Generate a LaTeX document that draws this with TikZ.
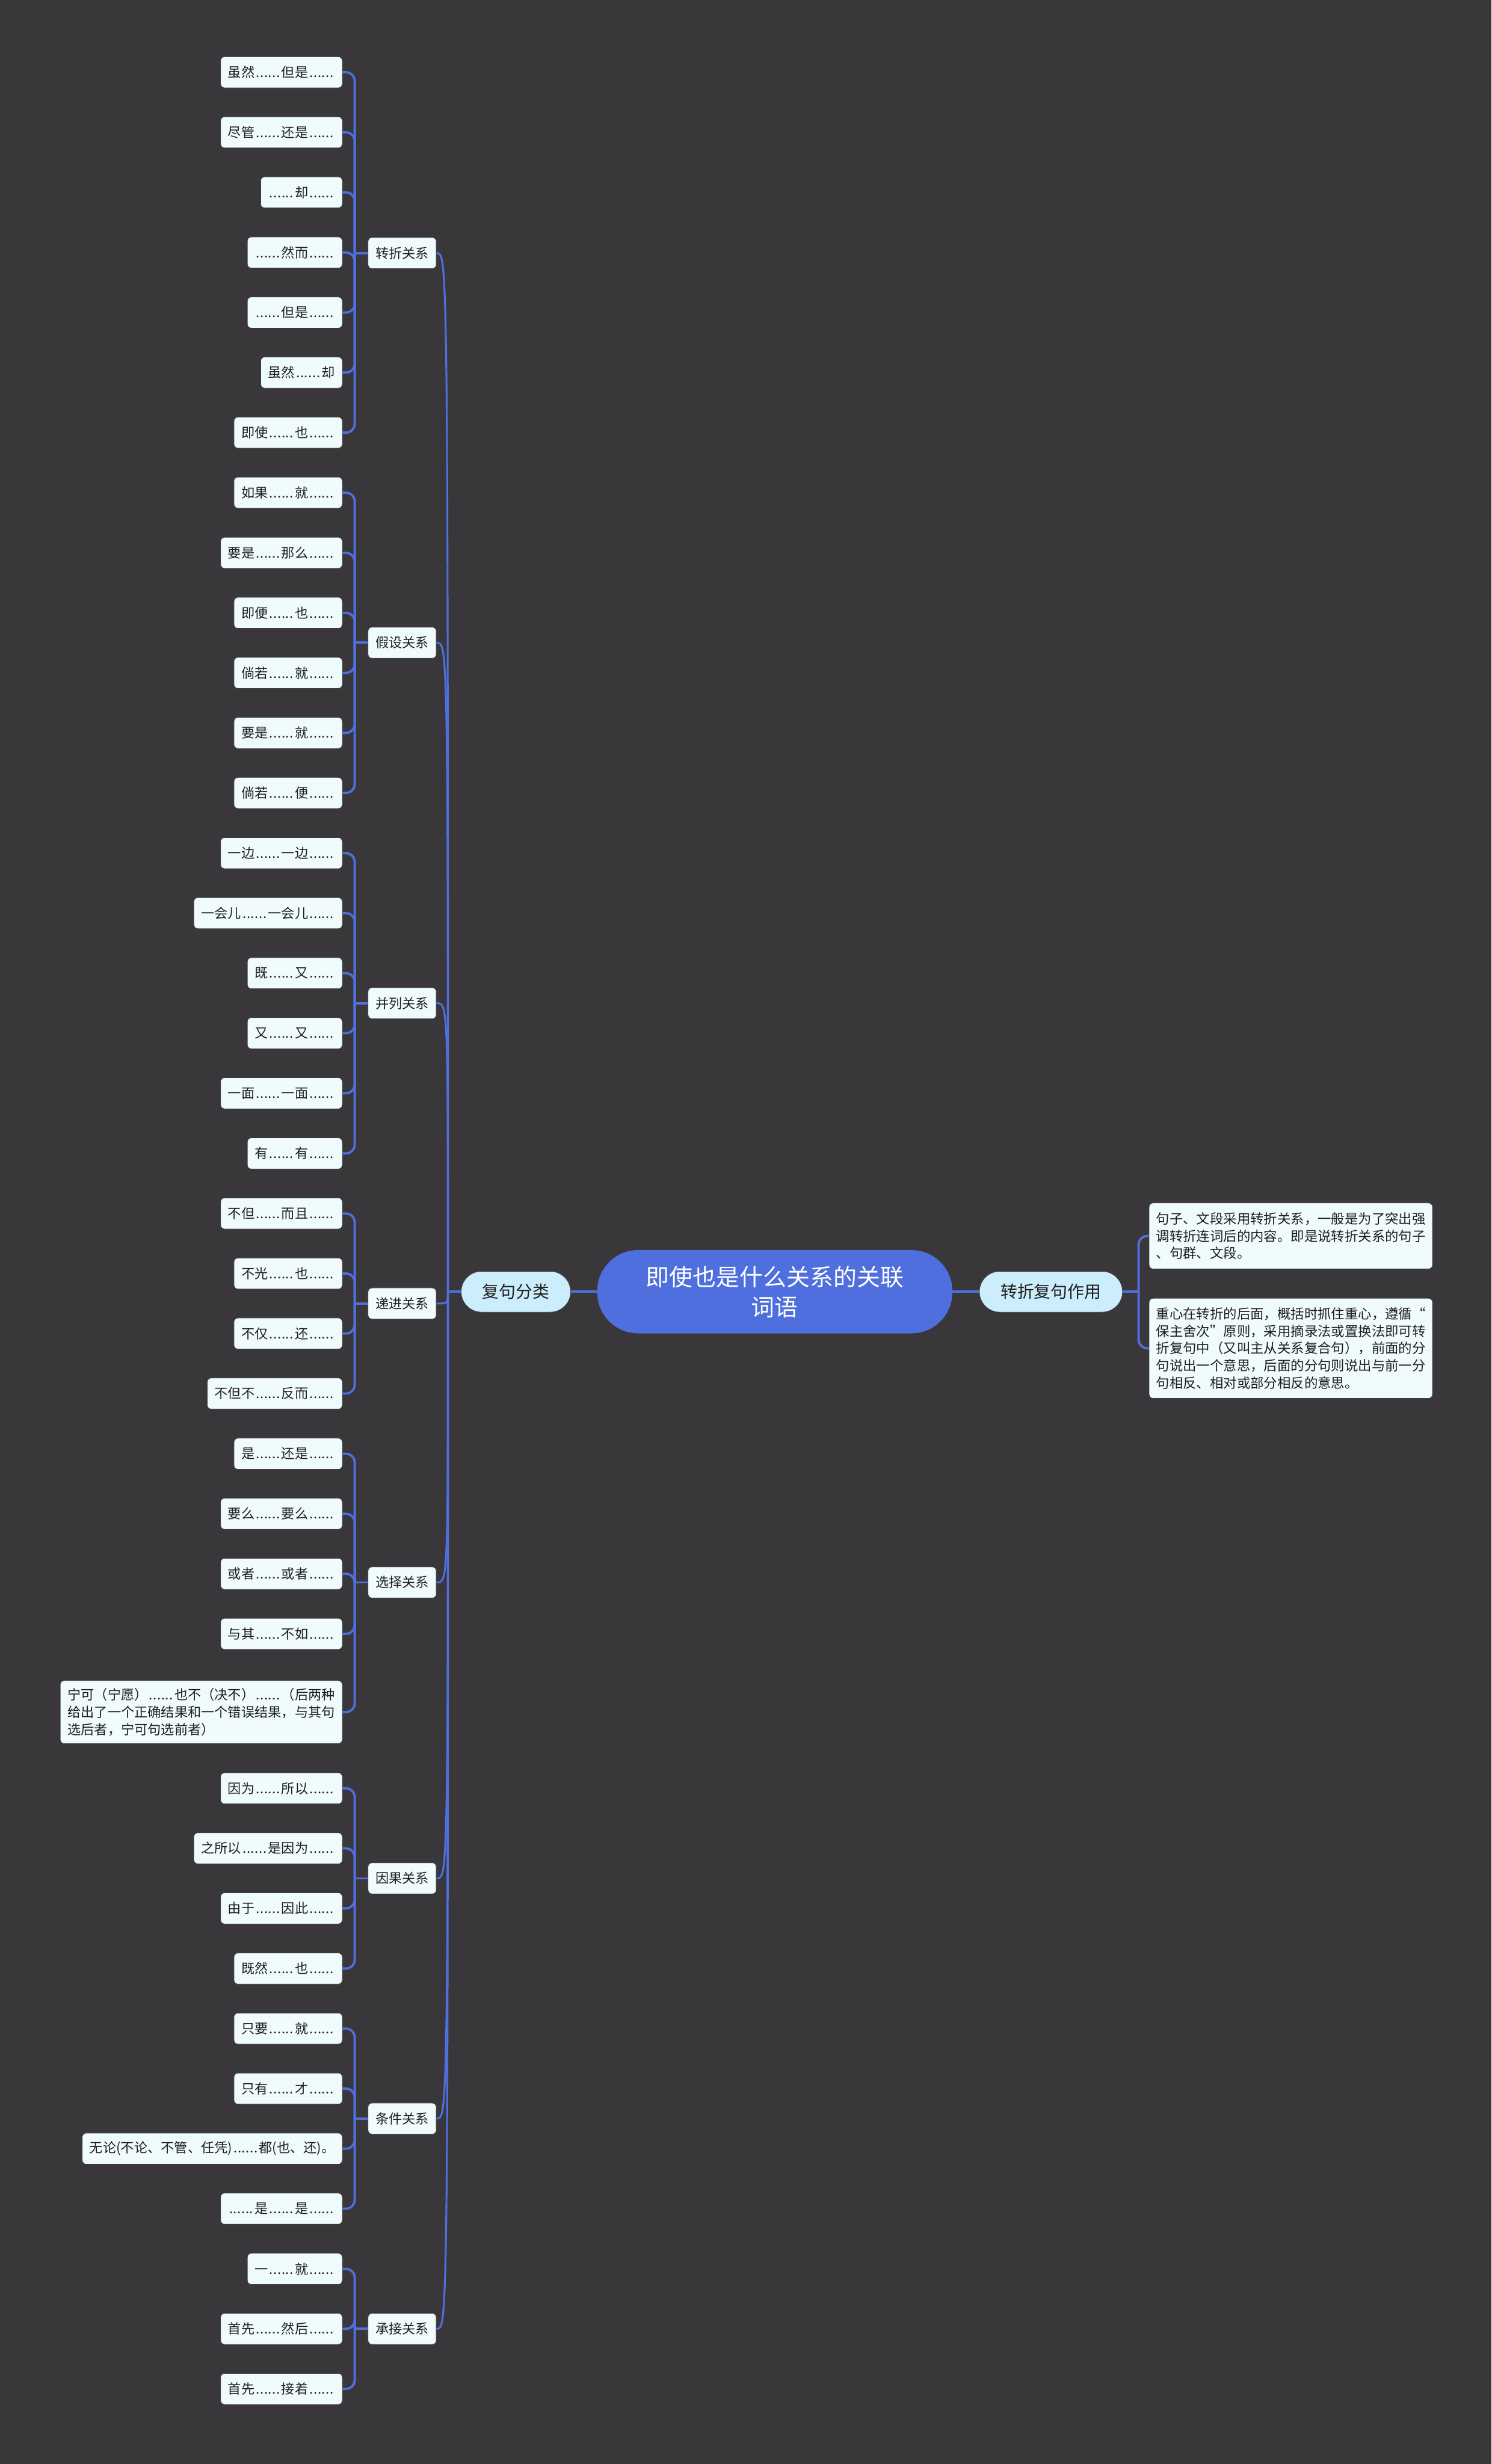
\documentclass[tikz,border=0pt]{standalone}
\usepackage{fontspec}
\newfontfamily\cjkfont{Noto Sans CJK SC}
\usepackage{xcolor}
\usepackage{tikz}
\definecolor{JSBg}{HTML}{39373A}
\definecolor{JSBlue}{HTML}{4E6FDD}
\definecolor{JSLeafFill}{HTML}{F0FBFE}
\definecolor{JSMidFill}{HTML}{CCEDFB}
\definecolor{JSText}{HTML}{1E1E1E}
\newcommand\sld{\hbox to 2em{\hskip.1em.\hfil.\hfil.\hfil.\hfil.\hfil.\hskip.1em}}

\begin{document}
\begin{tikzpicture}[x=0.05cm,y=-0.05cm,
  JSLeaf/.style={draw=black!75,line width=0.5pt,fill=JSLeafFill,rounded corners=3.6pt,text=JSText,
    font={\cjkfont\fontsize{12.1pt}{15.6pt}\selectfont},inner xsep=6.7pt,inner ysep=0pt,minimum height=28.2pt},
  JSNote/.style={JSLeaf,align=left,inner xsep=6.3pt,font={\cjkfont\fontsize{12.2pt}{15.6pt}\selectfont}},
  JSMid/.style={draw=black!75,line width=0.5pt,fill=JSMidFill,rounded corners=18.5pt,text=JSText,
    font={\cjkfont\fontsize{15.2pt}{18pt}\selectfont},inner xsep=19.2pt,inner ysep=0pt,minimum height=37pt},
  JSRoot/.style={fill=JSBlue,rounded corners=37pt,text=white,align=center,
    font={\cjkfont\fontsize{21.2pt}{27.3pt}\selectfont},minimum width=321.5pt,minimum height=75.4pt},
  JSLink/.style={draw=JSBlue,line width=2.1pt},
  JSBend/.style={JSLink,rounded corners=8pt},
  JSCurve/.style={draw=JSBlue,line width=1.7pt}]
\path[use as bounding box] (0,0) rectangle (949,1568);
\fill[JSBg] (0,0) rectangle (949,1568);

\node[JSRoot] (root) at (493,822) {即使也是什么关系的关联\\词语};
\node[JSMid,anchor=east] (fl) at (363.3,822) {复句分类};
\node[JSMid,anchor=west] (zy) at (623,822) {转折复句作用};
\node[JSNote,anchor=west,minimum height=59.7pt] (r1) at (731,786.5) {句子、文段采用转折关系，一般是为了突出强\\调转折连词后的内容。即是说转折关系的句子\\、句群、文段。};
\node[JSNote,anchor=west,minimum height=90.6pt] (r2) at (731,858) {重心在转折的后面，概括时抓住重心，遵循“\\保主舍次”原则，采用摘录法或置换法即可转\\折复句中（又叫主从关系复合句），前面的分\\句说出一个意思，后面的分句则说出与前一分\\句相反、相对或部分相反的意思。};

\node[JSLeaf,anchor=west] (zz) at (234,161) {转折关系};
\node[JSLeaf,anchor=west] (js) at (234,409) {假设关系};
\node[JSLeaf,anchor=west] (bl) at (234,638.4) {并列关系};
\node[JSLeaf,anchor=west] (dj) at (234,829.5) {递进关系};
\node[JSLeaf,anchor=west] (xz) at (234,1007) {选择关系};
\node[JSLeaf,anchor=west] (yg) at (234,1195.3) {因果关系};
\node[JSLeaf,anchor=west] (tj) at (234,1348.2) {条件关系};
\node[JSLeaf,anchor=west] (cj) at (234,1482) {承接关系};

\node[JSLeaf,anchor=east] (z1) at (218,46) {虽然\sld{}但是\sld};
\node[JSLeaf,anchor=east] (z2) at (218,84.2) {尽管\sld{}还是\sld};
\node[JSLeaf,anchor=east] (z3) at (218,122.4) {\sld{}却\sld};
\node[JSLeaf,anchor=east] (z4) at (218,160.7) {\sld{}然而\sld};
\node[JSLeaf,anchor=east] (z5) at (218,198.9) {\sld{}但是\sld};
\node[JSLeaf,anchor=east] (z6) at (218,237.1) {虽然\sld{}却};
\node[JSLeaf,anchor=east] (z7) at (218,275.3) {即使\sld{}也\sld};

\node[JSLeaf,anchor=east] (j1) at (218,313.5) {如果\sld{}就\sld};
\node[JSLeaf,anchor=east] (j2) at (218,351.8) {要是\sld{}那么\sld};
\node[JSLeaf,anchor=east] (j3) at (218,390) {即便\sld{}也\sld};
\node[JSLeaf,anchor=east] (j4) at (218,428.2) {倘若\sld{}就\sld};
\node[JSLeaf,anchor=east] (j5) at (218,466.4) {要是\sld{}就\sld};
\node[JSLeaf,anchor=east] (j6) at (218,504.6) {倘若\sld{}便\sld};

\node[JSLeaf,anchor=east] (b1) at (218,542.9) {一边\sld{}一边\sld};
\node[JSLeaf,anchor=east] (b2) at (218,581.1) {一会儿\sld{}一会儿\sld};
\node[JSLeaf,anchor=east] (b3) at (218,619.3) {既\sld{}又\sld};
\node[JSLeaf,anchor=east] (b4) at (218,657.5) {又\sld{}又\sld};
\node[JSLeaf,anchor=east] (b5) at (218,695.7) {一面\sld{}一面\sld};
\node[JSLeaf,anchor=east] (b6) at (218,734) {有\sld{}有\sld};

\node[JSLeaf,anchor=east] (d1) at (218,772.2) {不但\sld{}而且\sld};
\node[JSLeaf,anchor=east] (d2) at (218,810.4) {不光\sld{}也\sld};
\node[JSLeaf,anchor=east] (d3) at (218,848.6) {不仅\sld{}还\sld};
\node[JSLeaf,anchor=east] (d4) at (218,886.8) {不但不\sld{}反而\sld};

\node[JSLeaf,anchor=east] (x1) at (218,925.1) {是\sld{}还是\sld};
\node[JSLeaf,anchor=east] (x2) at (218,963.3) {要么\sld{}要么\sld};
\node[JSLeaf,anchor=east] (x3) at (218,1001.5) {或者\sld{}或者\sld};
\node[JSLeaf,anchor=east] (x4) at (218,1039.7) {与其\sld{}不如\sld};
\node[JSLeaf,anchor=east,align=left,minimum height=57pt] (x5) at (218,1089.5) {宁可（宁愿）\sld{}也不（决不）\sld{}（后两种\\给出了一个正确结果和一个错误结果，与其句\\选后者，宁可句选前者）};

\node[JSLeaf,anchor=east] (y1) at (218,1138) {因为\sld{}所以\sld};
\node[JSLeaf,anchor=east] (y2) at (218,1176.2) {之所以\sld{}是因为\sld};
\node[JSLeaf,anchor=east] (y3) at (218,1214.4) {由于\sld{}因此\sld};
\node[JSLeaf,anchor=east] (y4) at (218,1252.7) {既然\sld{}也\sld};

\node[JSLeaf,anchor=east] (t1) at (218,1290.9) {只要\sld{}就\sld};
\node[JSLeaf,anchor=east] (t2) at (218,1329.1) {只有\sld{}才\sld};
\node[JSLeaf,anchor=east] (t3) at (218,1367.3) {无论(不论、不管、任凭)\sld{}都(也、还)。};
\node[JSLeaf,anchor=east] (t4) at (218,1405.5) {\sld{}是\sld{}是\sld};

\node[JSLeaf,anchor=east] (c1) at (218,1443.8) {一\sld{}就\sld};
\node[JSLeaf,anchor=east] (c2) at (218,1482) {首先\sld{}然后\sld};
\node[JSLeaf,anchor=east] (c3) at (218,1520.2) {首先\sld{}接着\sld};

\coordinate (flJ) at (285,822);
\coordinate (zyS) at (724.5,822);
\coordinate (zzS) at (225.7,161);
\coordinate (jsS) at (225.7,409);
\coordinate (blS) at (225.7,638.4);
\coordinate (djS) at (225.7,829.5);
\coordinate (xzS) at (225.7,1007);
\coordinate (ygS) at (225.7,1195.3);
\coordinate (tjS) at (225.7,1348.2);
\coordinate (cjS) at (225.7,1482);

\draw[JSLink] (fl.east) -- (root.west);
\draw[JSLink] (root.east) -- (zy.west);
\draw[JSLink] (zy.east) -- (zyS);
\draw[JSBend] (r1.west) -| (zyS);
\draw[JSBend] (r2.west) -| (zyS);
\draw[JSLink] (flJ) -- (fl.west);

\draw[JSCurve] (zz.east) .. controls (285,161) .. (flJ);
\draw[JSCurve] (js.east) .. controls (285,409) .. (flJ);
\draw[JSCurve] (bl.east) .. controls (285,638.4) .. (flJ);
\draw[JSCurve] (dj.east) .. controls (285,829.5) .. (flJ);
\draw[JSCurve] (xz.east) .. controls (285,1007) .. (flJ);
\draw[JSCurve] (yg.east) .. controls (285,1195.3) .. (flJ);
\draw[JSCurve] (tj.east) .. controls (285,1348.2) .. (flJ);
\draw[JSCurve] (cj.east) .. controls (285,1482) .. (flJ);

\foreach \k in {1,...,7} \draw[JSBend] (z\k.east) -| (zzS);
\draw[JSLink] (zzS) -- (zz.west);
\foreach \k in {1,...,6} \draw[JSBend] (j\k.east) -| (jsS);
\draw[JSLink] (jsS) -- (js.west);
\foreach \k in {1,...,6} \draw[JSBend] (b\k.east) -| (blS);
\draw[JSLink] (blS) -- (bl.west);
\foreach \k in {1,...,4} \draw[JSBend] (d\k.east) -| (djS);
\draw[JSLink] (djS) -- (dj.west);
\foreach \k in {1,...,5} \draw[JSBend] (x\k.east) -| (xzS);
\draw[JSLink] (xzS) -- (xz.west);
\foreach \k in {1,...,4} \draw[JSBend] (y\k.east) -| (ygS);
\draw[JSLink] (ygS) -- (yg.west);
\foreach \k in {1,...,4} \draw[JSBend] (t\k.east) -| (tjS);
\draw[JSLink] (tjS) -- (tj.west);
\foreach \k in {1,...,3} \draw[JSBend] (c\k.east) -| (cjS);
\draw[JSLink] (cjS) -- (cj.west);
\end{tikzpicture}
\end{document}
